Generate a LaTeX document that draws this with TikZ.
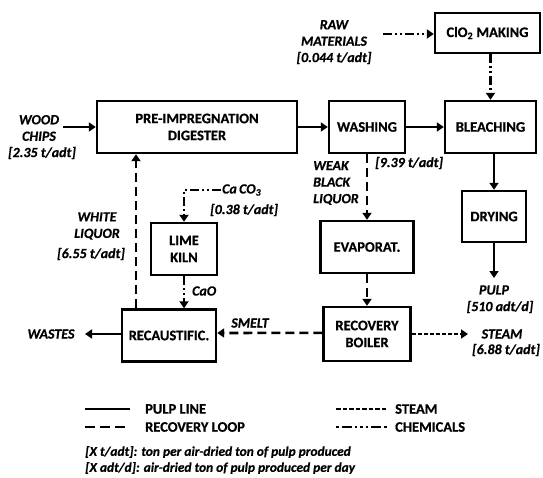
\documentclass[tikz,border=0pt]{standalone}
\usepackage{fontspec}
\setmainfont{Carlito}[BoldFeatures={FakeBold=0.6}, BoldItalicFeatures={FakeBold=0.6}]
\usetikzlibrary{arrows.meta}

\begin{document}
\begin{tikzpicture}[
    x=1pt, y=-1pt,
    box/.style={rectangle, draw, line width=2.4pt, align=center, inner sep=0pt, font=\fontsize{14.5}{17}\selectfont\bfseries},
    lbl/.style={align=center, inner sep=1pt, font=\fontsize{14}{16.5}\selectfont\bfseries\itshape},
    keytext/.style={anchor=west, inner sep=0pt, font=\fontsize{14.5}{17}\selectfont\bfseries},
    note/.style={anchor=west, inner sep=0pt, font=\fontsize{13.4}{14}\selectfont\bfseries\itshape},
    flow/.style={line width=2.6pt, -{Triangle[length=7pt,width=9pt]}},
    pulpline/.style={flow},
    recloop/.style={flow, dash pattern=on 9pt off 5pt},
    steamline/.style={flow, dash pattern=on 4pt off 2pt},
    chemline/.style={flow, dash pattern=on 9pt off 3pt on 2pt off 3pt on 2pt off 3pt}
]
    \useasboundingbox (0,0) rectangle (543,478);

    % process units
    \node (digester) at (197,127) [box, minimum width=200pt, minimum height=52pt] {PRE-IMPREGNATION\\DIGESTER};
    \node (washing) at (367,127) [box, minimum width=76pt, minimum height=52pt] {WASHING};
    \node (bleach) at (490.5,127) [box, minimum width=91pt, minimum height=52pt] {BLEACHING};
    \node (clo2) at (487.5,33) [box, minimum width=105pt, minimum height=40pt] {ClO\textsubscript{2} MAKING};
    \node (drying) at (494,216.5) [box, minimum width=64pt, minimum height=51pt] {DRYING};
    \node (evap) at (367,247) [box, minimum width=93pt, minimum height=52pt] {EVAPORAT.};
    \node (boiler) at (367,334) [box, minimum width=87pt, minimum height=54pt] {RECOVERY\\BOILER};
    \node (recaust) at (169,335.5) [box, minimum width=94pt, minimum height=52pt] {RECAUSTIFIC.};
    \node (kiln) at (184,249) [box, minimum width=66pt, minimum height=52pt] {LIME\\KILN};

    % stream labels
    \node (wood) at (39,128) [lbl] {WOOD\\CHIPS};
    \node (woodrate) at (42,153) [lbl] {[2.35 t/adt]};
    \node (raw) at (334,33) [lbl] {RAW\\MATERIALS};
    \node (rawrate) at (334,58) [lbl] {[0.044 t/adt]};
    \node (weak) at (312,183) [lbl, anchor=west, align=left] {WEAK\\BLACK\\LIQUOR};
    \node (washrate) at (374,163) [lbl, anchor=west] {[9.39 t/adt]};
    \node (white) at (97,226) [lbl] {WHITE\\LIQUOR};
    \node (whiterate) at (91,254) [lbl] {[6.55 t/adt]};
    \node (caco3) at (221,190) [lbl, anchor=west] {Ca\,CO\textsubscript{3}};
    \node (kilnrate) at (209,210) [lbl, anchor=west] {[0.38 t/adt]};
    \node (cao) at (191,291) [lbl, anchor=west] {CaO};
    \node (smelt) at (250,323) [lbl] {SMELT};
    \node (steam) at (502,334) [lbl] {STEAM};
    \node (steamrate) at (506,350) [lbl] {[6.88 t/adt]};
    \node (pulp) at (494,290) [lbl] {PULP};
    \node (pulprate) at (500,307) [lbl] {[510 adt/d]};
    \node (wastes) at (51,334) [lbl] {WASTES};

    \coordinate (woodend) at (63,127);
    \coordinate (rawend) at (383,34);
    \coordinate (steamend) at (468,334);
    \coordinate (pulpend) at (494,278);
    \coordinate (wasteend) at (85,334);

    % pulp line
    \draw[pulpline] (woodend) -- (woodend -| digester.west);
    \draw[pulpline] (digester.east |- washing) -- (washing.west);
    \draw[pulpline] (washing) -- (bleach);
    \draw[pulpline] (bleach.south -| drying.north) -- (drying.north);
    \draw[pulpline] (drying.south) -- (pulpend);
    \draw[pulpline] (recaust.west |- wasteend) -- (wasteend);

    % recovery loop
    \draw[recloop] (washing.south) -- (evap.north);
    \draw[recloop] (evap.south) -- (boiler.north);
    \draw[recloop] (boiler.west |- smelt.south) ++(0,4) -- (recaust.east |- 0,333);
    \draw[recloop] ([xshift=-33pt]recaust.north) -- ([xshift=-33pt]recaust.north |- digester.south);

    % steam and chemicals
    \draw[steamline] (boiler.east |- steamend) -- (steamend);
    \draw[chemline] (rawend) -- (rawend -| clo2.west);
    \draw[chemline] (clo2.south -| bleach.north) -- (bleach.north);
    \draw[chemline] (caco3.west) -| (kiln.north);
    \draw[chemline] (kiln.south) -- (kiln.south |- recaust.north);

    % legend
    \node (kpulp) at (145,409) [keytext] {PULP LINE};
    \node (krec) at (145,427) [keytext] {RECOVERY LOOP};
    \node (ksteam) at (395,409) [keytext] {STEAM};
    \node (kchem) at (395,427) [keytext] {CHEMICALS};
    \draw[line width=2.4pt] ([xshift=-60pt]kpulp.west) -- ([xshift=-15pt]kpulp.west);
    \draw[line width=2.6pt, dash pattern=on 10pt off 5pt] ([xshift=-60pt]krec.west) -- ([xshift=-16pt]krec.west);
    \draw[line width=2.6pt, dash pattern=on 4.5pt off 2pt] ([xshift=-59pt]ksteam.west) -- ([xshift=-8pt]ksteam.west);
    \draw[line width=2.6pt, dash pattern=on 2.5pt off 3pt on 10pt off 3pt on 2.5pt off 3pt on 2.5pt off 3pt] ([xshift=-59pt]kchem.west) -- ([xshift=-8pt]kchem.west);

    \node (note1) at (85,452) [note] {[X t/adt]: ton per air-dried ton of pulp produced};
    \node (note2) at (85,468) [note] {[X adt/d]: air-dried ton of pulp produced per day};

\end{tikzpicture}
\end{document}
